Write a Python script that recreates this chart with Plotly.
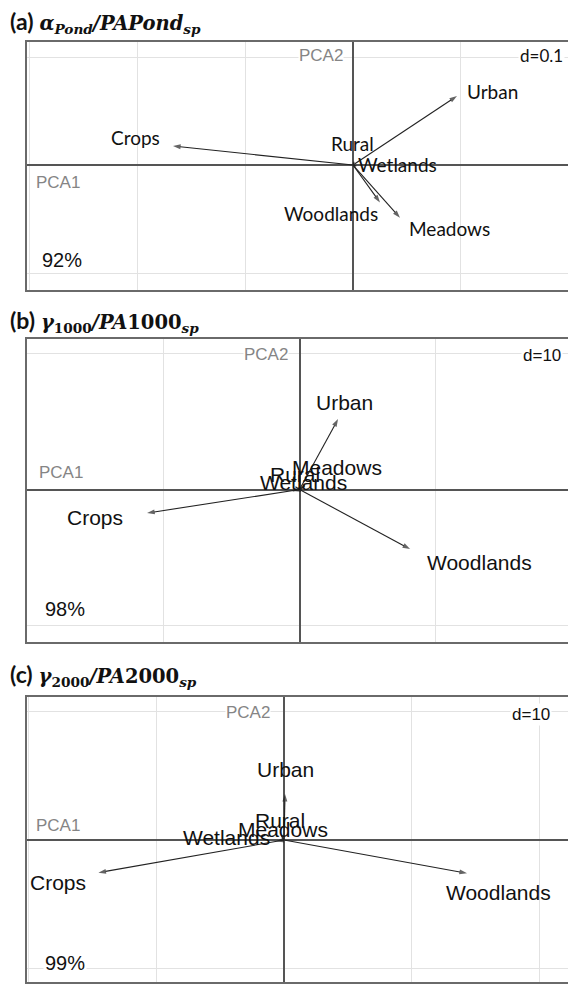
import plotly.graph_objects as go

# ---------------- data ----------------
variables = ["Urban", "Crops", "Rural", "Wetlands", "Woodlands", "Meadows"]

# panel (a): alpha_Pond / PAPond_sp  (PCA1, PCA2 loadings)
a_pca1 = [0.0963, -0.1667, 0.001, 0.003, 0.025, 0.0435]
a_pca2 = [0.0639, 0.0176, 0.003, -0.001, -0.0346, -0.0488]

# panel (b): gamma_1000 / PA1000_sp
b_pca1 = [2.83, -11.21, -0.3, -0.5, 8.13, 0.4]
b_pca2 = [5.18, -1.73, 0.2, -0.1, -4.38, 0.3]

# panel (c): gamma_2000 / PA2000_sp
c_pca1 = [0.08, -14.5, -0.2, -0.6, 14.3, -0.1]
c_pca2 = [3.6, -2.55, 0.3, -0.1, -2.6, 0.1]

grid_step = [0.1, 10, 10]
grid_labels = ["d=0.1", "d=10", "d=10"]
explained = ["92%", "98%", "99%"]
axis_names = ["PCA1", "PCA2"]

titles = [
    ("(a)", "<i>α</i><sub><i>Pond</i></sub><i>/PAPond</i><sub><i>sp</i></sub>"),
    ("(b)", "<i>γ</i><sub>1000</sub><i>/PA</i>1000<sub><i>sp</i></sub>"),
    ("(c)", "<i>γ</i><sub>2000</sub><i>/PA</i>2000<sub><i>sp</i></sub>"),
]

# ---------------- layout / style ----------------
W, H = 568, 984
LEFT_PX = 27
panels_px = [(42, 290), (339, 642), (697, 982)]   # box top/bottom in px
title_px = [22, 321, 675]
x_ranges = [[-0.3019, 0.1991], [-20.04, 19.74], [-20.08, 22.19]]
y_ranges = [[-0.1157, 0.1139], [-11.21, 11.07], [-11.09, 11.17]]

label_fonts = ["Lato", "Liberation Sans", "Liberation Sans"]
label_sizes = [19, 21, 21]

# (xanchor, xshift, yshift) per variable label, per panel
label_style = [
    {"Urban": ("left", 8, 5), "Crops": ("right", -11, 9), "Rural": ("center", -2, 18),
     "Wetlands": ("left", 0, 2), "Woodlands": ("right", 0, -11), "Meadows": ("left", 7, -11)},
    {"Urban": ("center", 6, 17), "Crops": ("right", -22, -4), "Rural": ("center", 0, 12),
     "Wetlands": ("center", 11, 8), "Woodlands": ("left", 15, -13), "Meadows": ("left", -15, 18)},
    {"Urban": ("center", 0, 24), "Crops": ("right", -10, -10), "Rural": ("center", -1, 16),
     "Wetlands": ("right", -4, 4), "Woodlands": ("left", -23, -19), "Meadows": ("center", 0, 9)},
]
# static label placements: (xshift, yshift)
pca2_pos = [(-9, 2), (-11, -1), (-13, -1)]
pca1_pos = [(8, -17), (11, 17), (8, 15)]
dlab_pos = [(-3, 2), (-5, -2), (-16, -3)]
pct_pos = [(13, 13), (16, 17), (16, 5)]
d_fonts = ["Lato", "Liberation Sans", "Liberation Sans"]

data_x = [a_pca1, b_pca1, c_pca1]
data_y = [a_pca2, b_pca2, c_pca2]

fig = go.Figure()
annotations = []
BOX = "#6a6a6a"
AX = "#555555"
GRID = "#e2e2e2"
ARROW = "#222222"

for i in range(3):
    n = "" if i == 0 else str(i + 1)
    xr, yr = "x" + n, "y" + n
    top, bot = panels_px[i]
    xdom = [LEFT_PX / W, 1.0]
    ydom = [1 - bot / H, 1 - top / H]
    d = grid_step[i]
    common = dict(showgrid=True, gridcolor=GRID, gridwidth=1, dtick=d, tick0=0,
                  zeroline=True, zerolinecolor=AX, zerolinewidth=1.6,
                  showticklabels=False, ticks="", showline=True, linecolor=BOX,
                  linewidth=2, fixedrange=True)
    fig.update_layout(**{
        "xaxis" + n: dict(domain=xdom, range=x_ranges[i], anchor=yr, mirror=True, **common),
        "yaxis" + n: dict(domain=ydom, range=y_ranges[i], anchor=xr, mirror=False, **common),
    })

    pxu = (W - LEFT_PX) / (x_ranges[i][1] - x_ranges[i][0])
    for name, vx, vy in zip(variables, data_x[i], data_y[i]):
        length_px = ((vx * pxu) ** 2 + (vy * pxu) ** 2) ** 0.5
        head = 8 if length_px > 6 else 0
        fig.add_trace(go.Scatter(
            x=[0, vx], y=[0, vy], mode="lines+markers", xaxis=xr, yaxis=yr,
            line=dict(color=ARROW, width=1.1),
            marker=dict(symbol="arrow", size=[0, head], angleref="previous",
                        color=ARROW, line=dict(width=0)),
            hoverinfo="skip", showlegend=False, cliponaxis=False))
        xa, xs, ys = label_style[i][name]
        annotations.append(dict(
            x=vx, y=vy, xref=xr, yref=yr, text=name, showarrow=False,
            xanchor=xa, yanchor="middle", xshift=xs, yshift=ys,
            font=dict(family=label_fonts[i], size=label_sizes[i], color="#111111")))

    # axis name labels
    annotations.append(dict(x=0, y=d, xref=xr, yref=yr, text=axis_names[1], showarrow=False,
                            xanchor="right", yanchor="middle", xshift=pca2_pos[i][0],
                            yshift=pca2_pos[i][1], bgcolor="white", borderpad=0,
                            font=dict(family="Liberation Sans", size=17, color="#858585")))
    annotations.append(dict(x=0, y=0, xref=xr + " domain", yref=yr, text=axis_names[0],
                            showarrow=False, xanchor="left", yanchor="middle",
                            xshift=pca1_pos[i][0], yshift=pca1_pos[i][1], bgcolor="white",
                            borderpad=0,
                            font=dict(family="Liberation Sans", size=17, color="#858585")))
    annotations.append(dict(x=1, y=d, xref=xr + " domain", yref=yr, text=grid_labels[i],
                            showarrow=False, xanchor="right", yanchor="middle",
                            xshift=dlab_pos[i][0], yshift=dlab_pos[i][1], bgcolor="white",
                            borderpad=1,
                            font=dict(family=d_fonts[i], size=17, color="#111111")))
    annotations.append(dict(x=0, y=-d, xref=xr + " domain", yref=yr, text=explained[i],
                            showarrow=False, xanchor="left", yanchor="middle",
                            xshift=pct_pos[i][0], yshift=pct_pos[i][1], bgcolor="white",
                            borderpad=1,
                            font=dict(family="Liberation Sans", size=20, color="#111111")))
    # panel title
    tag, formula = titles[i]
    annotations.append(dict(
        x=8 / W, y=1 - title_px[i] / H, xref="paper", yref="paper", showarrow=False,
        xanchor="left", yanchor="middle",
        text=f'<span style="font-family:Lato"><b>{tag}</b></span> '
             f'<span style="font-family:DejaVu Serif;font-size:19.5px"><b>{formula}</b></span>',
        font=dict(family="Lato", size=23, color="#111111")))

fig.update_layout(width=W, height=H, margin=dict(l=0, r=0, t=0, b=0),
                  paper_bgcolor="white", plot_bgcolor="white",
                  annotations=annotations, showlegend=False)

fig.write_html("out.html", config={"displayModeBar": False},
               post_script="document.body.style.margin='0';"
                           "document.body.style.overflow='hidden';")
